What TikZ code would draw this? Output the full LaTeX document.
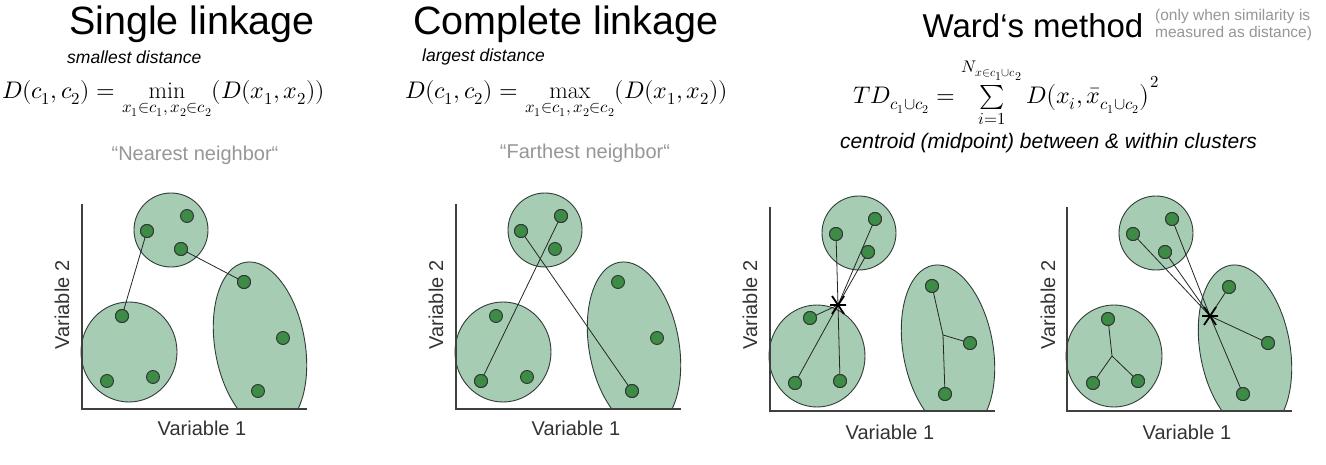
\documentclass[tikz,border=0pt]{standalone}
\usepackage{amsmath}
\usepackage{fontspec}
\setmainfont{Liberation Sans}
\usepackage{unicode-math}
\setmathfont{Latin Modern Math}
\setmathrm{Latin Modern Roman}
\definecolor{fillg}{RGB}{166,204,180}
\definecolor{ptg}{RGB}{60,140,70}
\definecolor{edgeg}{RGB}{50,60,55}
\definecolor{txtg}{RGB}{150,150,150}
\tikzset{
 clus/.style={fill=fillg,draw=edgeg,line width=0.9pt},
 pt/.style={circle,fill=ptg,draw=black!80,line width=0.9pt,inner sep=0pt,minimum size=13pt},
 lnk/.style={draw=black!85,line width=0.8pt},
 ax/.style={draw=black!75,line width=1.2pt},
 vlab/.style={font=\fontsize{20}{22}\selectfont,text=black!80},
 ttl/.style={font=\fontsize{39.5}{42}\selectfont},
 hand/.style={font=\fontsize{17.5}{19}\selectfont\itshape},
 gr/.style={font=\fontsize{20}{22}\selectfont,text=txtg},
 frm/.style={font=\fontsize{24}{28}\selectfont},
 starl/.style={draw=black,line width=1.8pt}
}
\begin{document}
\begin{tikzpicture}[x=1pt,y=-1pt]
\useasboundingbox (0,0) rectangle (1326,465);
% titles
\node[ttl] (t1) at (192,24) {Single linkage};
\node[ttl,font=\fontsize{39.5}{42}\selectfont] (t2) at (566,24) {Complete linkage};
\node[font=\fontsize{33}{36}\selectfont] (t3) at (1033,26) {Ward‘s method};
\node[font=\fontsize{15.5}{17}\selectfont,text=txtg,align=left,anchor=west,inner sep=0pt] (note) at (1155,25) {(only when similarity is\\measured as distance)};
\node[hand,anchor=west,inner sep=0pt] (h1) at (67,57) {smallest distance};
\node[hand,anchor=west,inner sep=0pt] (h2) at (422,57) {largest distance};
\node[hand,anchor=west,inner sep=0pt,font=\fontsize{21}{23}\selectfont\itshape] (h3) at (840,143) {centroid (midpoint) between \& within clusters};
% formulas
\node[frm,anchor=west,inner sep=0pt] (f1) at (2,100) {$D(c_1,c_2)=\min\limits_{x_1\in c_1,\,x_2\in c_2}(D(x_1,x_2))$};
\node[frm,anchor=west,inner sep=0pt] (f2) at (405,100) {$D(c_1,c_2)=\max\limits_{x_1\in c_1,\,x_2\in c_2}(D(x_1,x_2))$};
\node[frm,anchor=west,inner sep=0pt] (f3) at (853,93) {$TD_{c_1\cup c_2}=\sum\limits_{i=1}^{N_{x\in c_1\cup c_2}} D\big(x_i,\bar{x}_{c_1\cup c_2}\big)^2$};
\node[gr] (g1) at (195,155) {“Nearest neighbor“};
\node[gr] (g2) at (585,153) {“Farthest neighbor“};

% ===== plot 1 =====
\begin{scope}
\clip (60,190) rectangle (320,409);
\fill[clus] (260,346) ellipse[x radius=45,y radius=85,rotate=10];
\end{scope}
\draw[clus] (171,230) ellipse[x radius=37,y radius=37];
\draw[clus] (129,352) ellipse[x radius=48,y radius=50];
\draw[ax] (82,204) -- (82,409) -- (307,409);
\node[pt] (a1) at (147,231) {}; \node[pt] (a2) at (187,216) {}; \node[pt] (a3) at (181,249) {};
\node[pt] (a4) at (122,316) {}; \node[pt] (a5) at (107,381) {}; \node[pt] (a6) at (153,377) {};
\node[pt] (a7) at (244,282) {}; \node[pt] (a8) at (283,338) {}; \node[pt] (a9) at (258,391) {};
\draw[lnk] (a1.center) -- (a4.center);
\draw[lnk] (a3.center) -- (a7.center);
\foreach \p in {a1,a3,a4,a7} \node[pt] at (\p) {};
\node[vlab] (x1) at (202,428) {Variable 1};
\node[vlab,rotate=90] (y1) at (62,305) {Variable 2};

% ===== plot 2 =====
\begin{scope}[xshift=374pt]
\begin{scope}
\clip (60,190) rectangle (320,409);
\fill[clus] (260,346) ellipse[x radius=45,y radius=85,rotate=10];
\end{scope}
\draw[clus] (171,230) ellipse[x radius=37,y radius=37];
\draw[clus] (129,352) ellipse[x radius=48,y radius=50];
\draw[ax] (82,204) -- (82,409) -- (307,409);
\node[pt] (b1) at (147,231) {}; \node[pt] (b2) at (187,216) {}; \node[pt] (b3) at (181,249) {};
\node[pt] (b4) at (122,316) {}; \node[pt] (b5) at (107,381) {}; \node[pt] (b6) at (153,377) {};
\node[pt] (b7) at (244,282) {}; \node[pt] (b8) at (283,338) {}; \node[pt] (b9) at (258,391) {};
\draw[lnk] (b5.center) -- (b2.center);
\draw[lnk] (b1.center) -- (b9.center);
\foreach \p in {b1,b2,b5,b9} \node[pt] at (\p) {};
\node[vlab] (x2) at (202,428) {Variable 1};
\node[vlab,rotate=90] (y2) at (62,305) {Variable 2};
\end{scope}

% ===== plot 3 =====
\begin{scope}
\clip (760,190) rectangle (1000,411);
\fill[clus] (948,349) ellipse[x radius=45,y radius=85,rotate=10];
\end{scope}
\draw[clus] (859,233) ellipse[x radius=37,y radius=37];
\draw[clus] (817,356) ellipse[x radius=48,y radius=51];
\draw[ax] (770,207) -- (770,411) -- (995,411);
\node[pt] (c1) at (836,234) {}; \node[pt] (c2) at (875,219) {}; \node[pt] (c3) at (868,252) {};
\node[pt] (c4) at (810,318) {}; \node[pt] (c5) at (795,383) {}; \node[pt] (c6) at (840,381) {};
\node[pt] (c7) at (932,286) {}; \node[pt] (c8) at (970,343) {}; \node[pt] (c9) at (945,394) {};
\coordinate (cs) at (838,305);
\coordinate (cb) at (943,335);
\foreach \p in {c1,c2,c3,c4,c5,c6} \draw[lnk] (cs) -- (\p.center);
\draw[lnk] (c7.center) -- (cb) -- (c9.center);
\draw[lnk] (cb) -- (c8.center);
\foreach \p in {c1,c2,c3,c4,c5,c6,c7,c8,c9} \node[pt] at (\p) {};
\draw[starl] ([shift={(-8,0)}]cs) -- ([shift={(8,0)}]cs)
  ([shift={(-6,-9)}]cs) -- ([shift={(6,9)}]cs)
  ([shift={(6,-9)}]cs) -- ([shift={(-6,9)}]cs);
\node[vlab] (x3) at (890,432) {Variable 1};
\node[vlab,rotate=90] (y3) at (750,305) {Variable 2};

% ===== plot 4 =====
\begin{scope}[xshift=297pt]
\begin{scope}
\clip (760,190) rectangle (1000,411);
\fill[clus] (948,349) ellipse[x radius=45,y radius=85,rotate=10];
\end{scope}
\draw[clus] (859,233) ellipse[x radius=37,y radius=37];
\draw[clus] (817,356) ellipse[x radius=48,y radius=51];
\draw[ax] (770,207) -- (770,411) -- (995,411);
\node[pt] (d1) at (836,234) {}; \node[pt] (d2) at (875,219) {}; \node[pt] (d3) at (868,252) {};
\node[pt] (d4) at (811,319) {}; \node[pt] (d5) at (796,383) {}; \node[pt] (d6) at (841,381) {};
\node[pt] (d7) at (932,287) {}; \node[pt] (d8) at (971,343) {}; \node[pt] (d9) at (946,394) {};
\coordinate (ds) at (913,316);
\coordinate (db) at (815,356);
\foreach \p in {d1,d2,d3,d7,d8,d9} \draw[lnk] (ds) -- (\p.center);
\draw[lnk] (d4.center) -- (db) -- (d5.center);
\draw[lnk] (db) -- (d6.center);
\foreach \p in {d1,d2,d3,d4,d5,d6,d7,d8,d9} \node[pt] at (\p) {};
\draw[starl] ([shift={(-8,0)}]ds) -- ([shift={(8,0)}]ds)
  ([shift={(-6,-9)}]ds) -- ([shift={(6,9)}]ds)
  ([shift={(6,-9)}]ds) -- ([shift={(-6,9)}]ds);
\node[vlab] (x4) at (890,432) {Variable 1};
\node[vlab,rotate=90] (y4) at (751,305) {Variable 2};
\end{scope}
\end{tikzpicture}
\end{document}
